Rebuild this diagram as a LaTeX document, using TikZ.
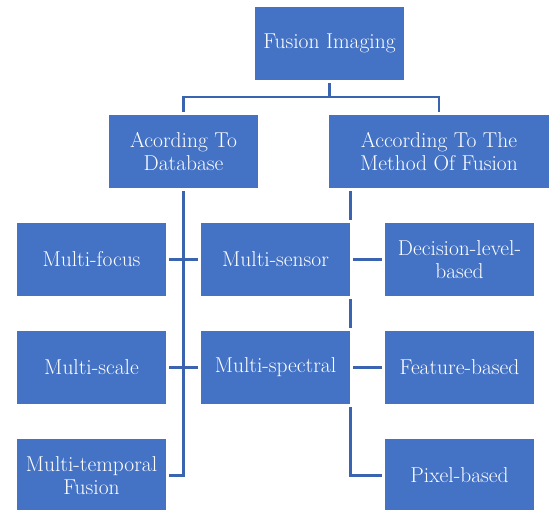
\documentclass[tikz,border=0pt]{standalone}
\pgfdeclarelayer{background}
\pgfsetlayers{background,main}
\definecolor{boxblue}{HTML}{4472C4}
\definecolor{lineblue}{HTML}{3B64B0}
\tikzset{
  block/.style={fill=boxblue, text=white, align=center, inner sep=2pt,
    minimum width=149pt, minimum height=73pt,
    font=\fontsize{21.5}{23}\selectfont,
    preaction={draw=white, line width=6pt}},
  link/.style={draw=lineblue, line width=2.8pt}
}
\begin{document}
\begin{tikzpicture}[x=1pt,y=-1pt]
    \useasboundingbox (0,0) rectangle (549,510);

    \node[block] (fusion) at (329.5,43.5) {Fusion Imaging};
    \node[block] (database) at (183.5,151.5) {Acording To\\Database};
    \node[block,minimum width=220pt] (method) at (439,151.5) {According To The\\Method Of Fusion};

    \node[block] (focus) at (91.5,259.5) {Multi-focus};
    \node[block] (scale) at (91.5,367.5) {Multi-scale};
    \node[block] (temporal) at (91.5,475.5) {Multi-temporal\\Fusion};

    \node[block] (sensor) at (275.5,259.5) {Multi-sensor};
    \node[block] (spectral) at (275.5,367.5) {Multi-spectral};

    \node[block] (decision) at (459.5,259.5) {Decision-level-\\based};
    \node[block] (feature) at (459.5,367.5) {Feature-based};
    \node[block] (pixel) at (459.5,475.5) {Pixel-based};

    \begin{pgfonlayer}{background}
        \coordinate (split) at (329.5,97);
        \draw[link] (fusion) -- (split);
        \draw[link] (database) |- (split) -| (method);

        % left branch
        \draw[link] (database) |- (temporal);
        \draw[link] (focus) -- (sensor);
        \draw[link] (scale) -- (spectral);

        % right branch
        \draw[link] (method.south -| sensor.east) |- (pixel);
        \draw[link] (sensor) -- (decision);
        \draw[link] (spectral) -- (feature);
    \end{pgfonlayer}
\end{tikzpicture}
\end{document}
